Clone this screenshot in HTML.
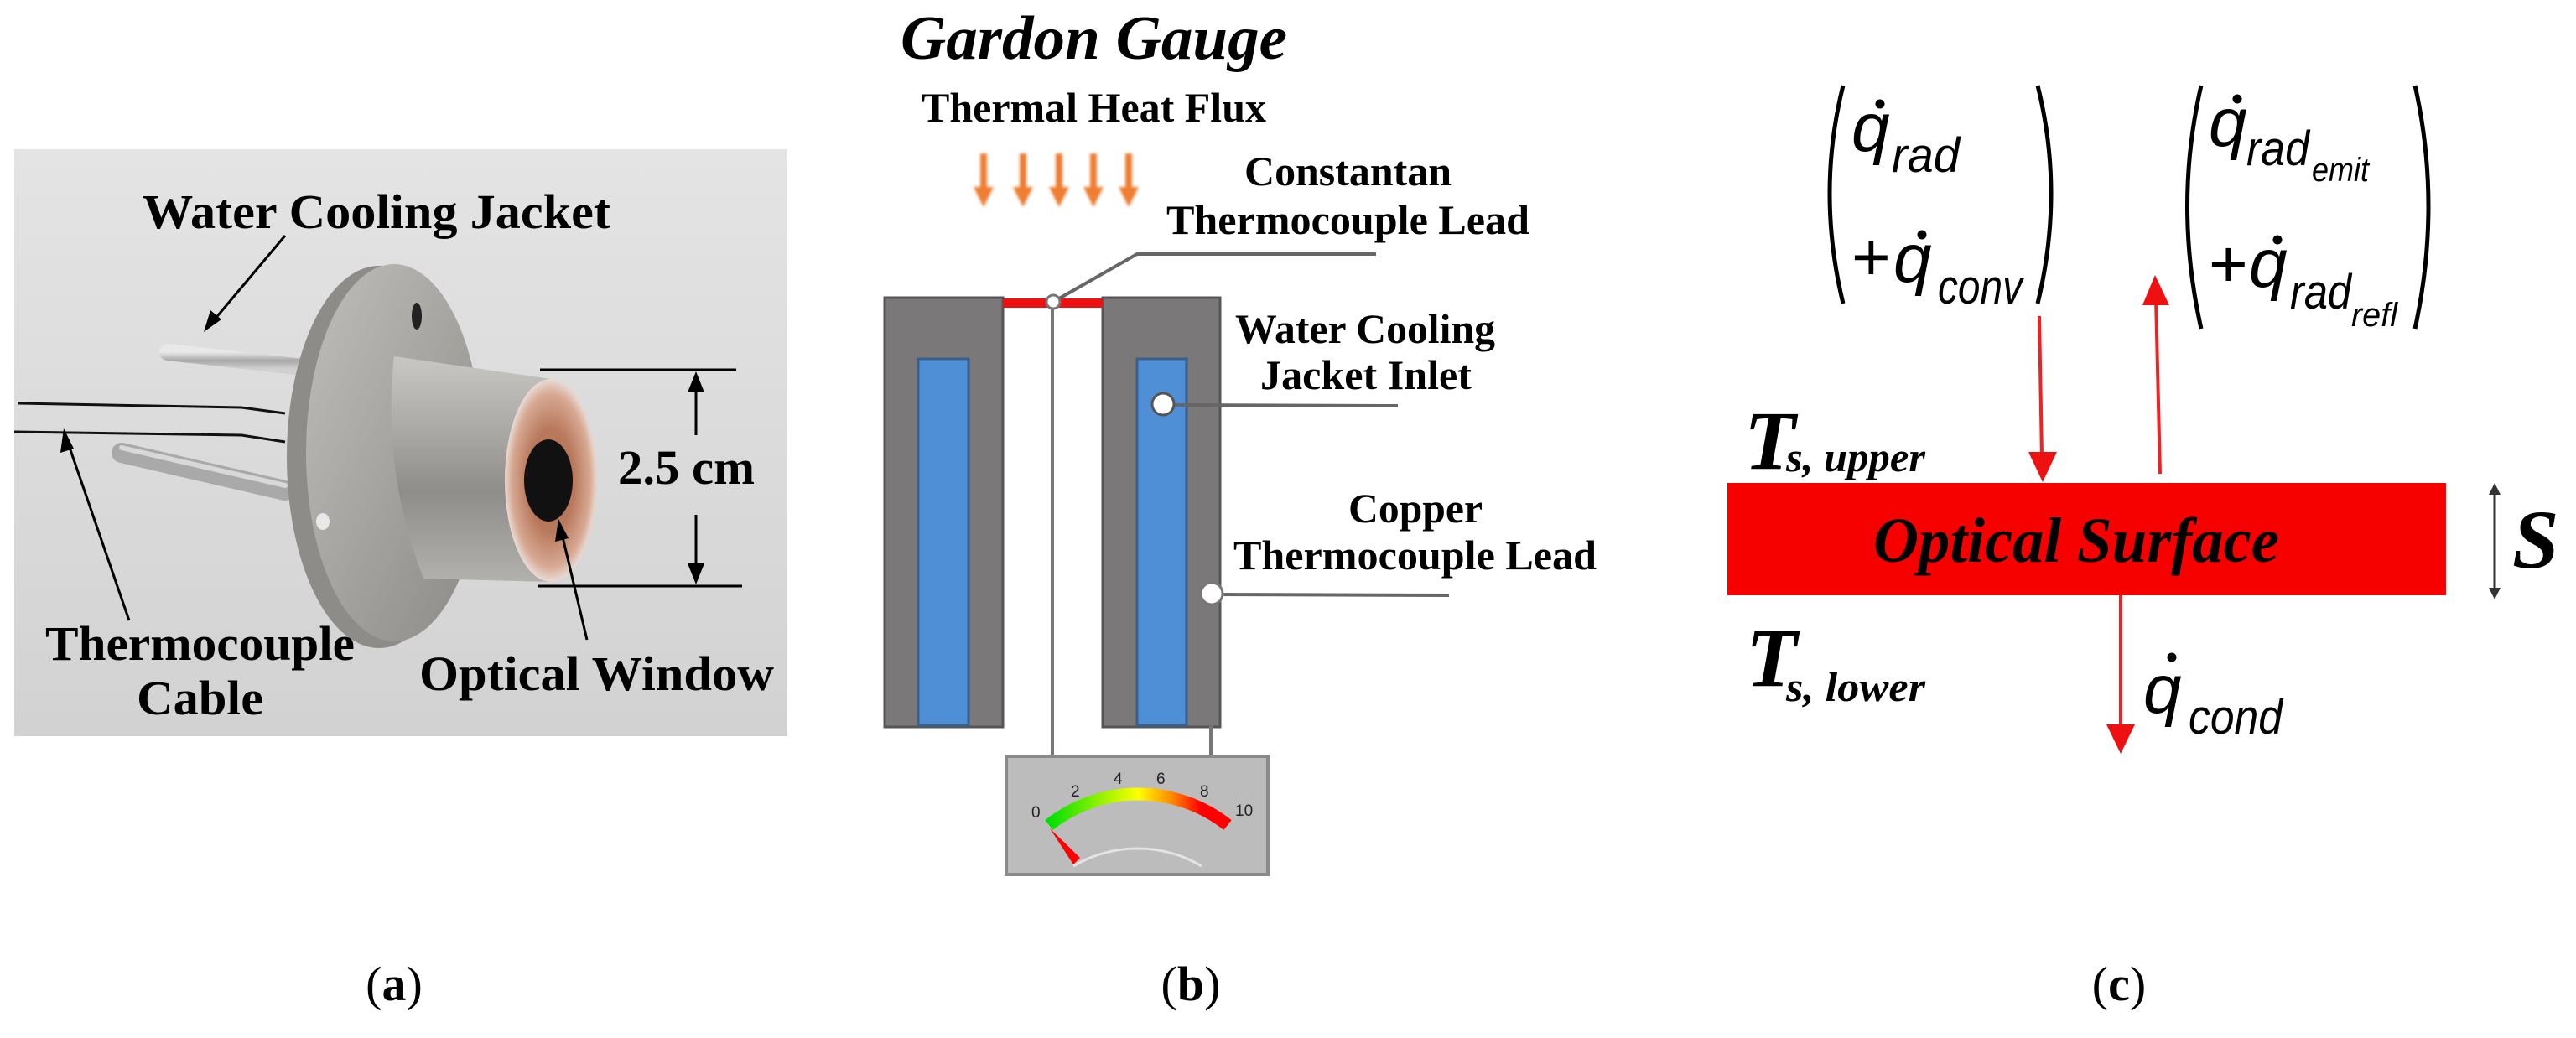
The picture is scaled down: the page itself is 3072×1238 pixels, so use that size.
<!DOCTYPE html>
<html><head><meta charset="utf-8"><style>
html,body{margin:0;padding:0;background:#fff}
svg{display:block}
.tb{font-family:"Liberation Serif",serif;font-weight:bold}
.qi{font-family:"Liberation Sans",sans-serif;font-style:italic}
</style></head><body>
<svg width="3072" height="1238" viewBox="0 0 3072 1238" xmlns="http://www.w3.org/2000/svg">
<defs>
<linearGradient id="bg" x1="0" y1="0" x2="0" y2="1"><stop offset="0" stop-color="#e4e4e4"/><stop offset="1" stop-color="#d2d2d2"/></linearGradient>
<linearGradient id="barrel" x1="0" y1="0" x2="0" y2="1"><stop offset="0" stop-color="#c9c7c3"/><stop offset="0.35" stop-color="#a9a7a3"/><stop offset="0.6" stop-color="#8f8d8a"/><stop offset="1" stop-color="#b3b1ad"/></linearGradient>
<linearGradient id="flange" x1="0" y1="0" x2="1" y2="1"><stop offset="0" stop-color="#c0beba"/><stop offset="1" stop-color="#8c8a86"/></linearGradient>
<radialGradient id="cop" cx="0.5" cy="0.5" r="0.5"><stop offset="0.5" stop-color="#b8785c"/><stop offset="0.85" stop-color="#d7a892"/><stop offset="1" stop-color="#e8dcd6"/></radialGradient>
<linearGradient id="rod" x1="0" y1="0" x2="0" y2="1"><stop offset="0" stop-color="#e8e8e8"/><stop offset="0.5" stop-color="#a8a8a8"/><stop offset="1" stop-color="#d0d0d0"/></linearGradient>
<linearGradient id="arc" x1="0" y1="0" x2="1" y2="0"><stop offset="0" stop-color="#00e000"/><stop offset="0.25" stop-color="#80f000"/><stop offset="0.5" stop-color="#ffff00"/><stop offset="0.7" stop-color="#ff8000"/><stop offset="0.85" stop-color="#ff0000"/><stop offset="1" stop-color="#ff0000"/></linearGradient>
<filter id="blur"><feGaussianBlur stdDeviation="1.5"/></filter>
</defs>

<!-- Panel (a) -->
<rect x="17" y="178" width="922" height="700" fill="url(#bg)"/>
<!-- rods -->
<line x1="200" y1="420" x2="380" y2="440" stroke="url(#rod)" stroke-width="20" stroke-linecap="round"/>
<line x1="145" y1="540" x2="340" y2="585" stroke="#a9a9a9" stroke-width="24" stroke-linecap="round"/>
<line x1="145" y1="534" x2="340" y2="579" stroke="#d8d8d8" stroke-width="6" stroke-linecap="round"/>
<!-- cable -->
<path d="M22 481 L288 486 L340 493" fill="none" stroke="#111" stroke-width="3"/>
<path d="M17 515 L288 519 L340 527" fill="none" stroke="#111" stroke-width="3"/>
<!-- flange -->
<ellipse cx="452" cy="545" rx="110" ry="228" fill="#8e8c88"/>
<ellipse cx="470" cy="540" rx="105" ry="225" fill="url(#flange)"/>
<ellipse cx="497" cy="377" rx="6" ry="16" fill="#222"/>
<ellipse cx="385" cy="622" rx="8" ry="10" fill="#e8e8e8"/>
<!-- barrel -->
<path d="M470 425 L657 452 A55 121 0 0 1 657 694 L505 690 Q455 560 470 425 Z" fill="url(#barrel)"/>
<ellipse cx="657" cy="573" rx="55" ry="121" fill="url(#cop)"/>
<ellipse cx="654" cy="573" rx="29" ry="49" fill="#111"/>
<!-- dimension -->
<line x1="644" y1="441" x2="878" y2="441" stroke="#000" stroke-width="3"/>
<line x1="641" y1="699" x2="885" y2="699" stroke="#000" stroke-width="3"/>
<line x1="830" y1="519" x2="830" y2="452" stroke="#000" stroke-width="3"/>
<path d="M830 443 L820 468 L840 468 Z" fill="#000"/>
<line x1="830" y1="614" x2="830" y2="688" stroke="#000" stroke-width="3"/>
<path d="M830 697 L820 672 L840 672 Z" fill="#000"/>
<!-- arrows -->
<line x1="340" y1="281" x2="250" y2="388" stroke="#000" stroke-width="3"/>
<path d="M243 396 L251 370 L264 381 Z" fill="#000"/>
<line x1="154" y1="740" x2="80" y2="525" stroke="#000" stroke-width="3"/>
<path d="M76 511 L72 540 L88 535 Z" fill="#000"/>
<line x1="700" y1="763" x2="669" y2="632" stroke="#000" stroke-width="3"/>
<path d="M666 619 L662 646 L678 642 Z" fill="#000"/>
<text class="tb" x="170" y="272" font-size="58" textLength="558" lengthAdjust="spacingAndGlyphs">Water Cooling Jacket</text>
<text class="tb" x="737" y="577" font-size="58" textLength="163" lengthAdjust="spacingAndGlyphs">2.5 cm</text>
<text class="tb" x="54" y="787" font-size="58" textLength="369" lengthAdjust="spacingAndGlyphs">Thermocouple</text>
<text class="tb" x="163" y="852" font-size="58" textLength="151" lengthAdjust="spacingAndGlyphs">Cable</text>
<text class="tb" x="500" y="823" font-size="58" textLength="423" lengthAdjust="spacingAndGlyphs">Optical Window</text>

<!-- Panel (b) -->
<text x="1074" y="70" font-family="Liberation Serif,serif" font-weight="bold" font-style="italic" font-size="74" textLength="461" lengthAdjust="spacingAndGlyphs">Gardon Gauge</text>
<text class="tb" x="1099" y="145" font-size="50" textLength="411" lengthAdjust="spacingAndGlyphs">Thermal Heat Flux</text>
<g fill="#ef7d32" filter="url(#blur)">
<g id="oa"><rect x="1169" y="183" width="8" height="42"/><path d="M1161 223 L1185 223 L1173 247 Z"/></g>
<use href="#oa" x="47"/><use href="#oa" x="90"/><use href="#oa" x="131"/><use href="#oa" x="173"/>
</g>
<text class="tb" x="1484" y="221" font-size="50" textLength="247" lengthAdjust="spacingAndGlyphs">Constantan</text>
<text class="tb" x="1391" y="279" font-size="50" textLength="433" lengthAdjust="spacingAndGlyphs">Thermocouple Lead</text>
<path d="M1256 360 L1356 303 L1641 303" fill="none" stroke="#666" stroke-width="4"/>
<!-- blocks -->
<rect x="1055" y="355" width="141" height="512" fill="#7a7878" stroke="#555" stroke-width="3"/>
<rect x="1095" y="428" width="60" height="437" fill="#4f8fd6" stroke="#3a5f8a" stroke-width="3"/>
<rect x="1315" y="355" width="140" height="512" fill="#7a7878" stroke="#555" stroke-width="3"/>
<rect x="1356" y="428" width="59" height="437" fill="#4f8fd6" stroke="#3a5f8a" stroke-width="3"/>
<rect x="1196" y="356" width="119" height="11" fill="#ee1111"/>
<line x1="1255" y1="360" x2="1255" y2="905" stroke="#777" stroke-width="4"/>
<line x1="1444" y1="866" x2="1444" y2="905" stroke="#777" stroke-width="4"/>
<circle cx="1256" cy="360" r="8" fill="#fff" stroke="#777" stroke-width="3"/>
<line x1="1387" y1="483" x2="1667" y2="484" stroke="#666" stroke-width="4"/>
<circle cx="1387" cy="482" r="13" fill="#fff" stroke="#555" stroke-width="3"/>
<line x1="1445" y1="709" x2="1728" y2="710" stroke="#666" stroke-width="4"/>
<circle cx="1445" cy="708" r="13" fill="#fff" stroke="#777" stroke-width="3"/>
<text class="tb" x="1473" y="409" font-size="50" textLength="310" lengthAdjust="spacingAndGlyphs">Water Cooling</text>
<text class="tb" x="1503" y="464" font-size="50" textLength="252" lengthAdjust="spacingAndGlyphs">Jacket Inlet</text>
<text class="tb" x="1608" y="623" font-size="50" textLength="160" lengthAdjust="spacingAndGlyphs">Copper</text>
<text class="tb" x="1471" y="679" font-size="50" textLength="433" lengthAdjust="spacingAndGlyphs">Thermocouple Lead</text>
<!-- meter -->
<rect x="1200" y="902" width="312" height="141" fill="#bcbcbc" stroke="#8a8a8a" stroke-width="4"/>
<path d="M1251 984 A172 172 0 0 1 1464 984" fill="none" stroke="url(#arc)" stroke-width="15"/>
<path d="M1280 1033 A150 150 0 0 1 1433 1033" fill="none" stroke="#e4e4e4" stroke-width="3"/>
<path d="M1252 988 L1280 1031 L1288 1023 Z" fill="#f00"/>
<g font-family="Liberation Sans,sans-serif" font-size="19" fill="#222">
<text x="1230" y="975">0</text><text x="1277" y="950">2</text><text x="1328" y="935">4</text><text x="1379" y="935">6</text><text x="1431" y="950">8</text><text x="1473" y="973">10</text>
</g>

<!-- Panel (c) -->
<g fill="none" stroke="#000" stroke-width="5">
<path d="M2198 102 Q2166 230 2198 362"/>
<path d="M2430 102 Q2462 230 2430 362"/>
<path d="M2625 102 Q2592 245 2625 392"/>
<path d="M2880 102 Q2912 245 2880 392"/>
</g>
<g class="qi" fill="#000">
<text x="2208" y="180" font-size="82">q</text><circle cx="2242" cy="124" r="5.5"/>
<text x="2256" y="205" font-size="58" textLength="81" lengthAdjust="spacingAndGlyphs">rad</text>
<text x="2208" y="334" font-size="80" font-style="normal">+</text>
<text x="2258" y="336" font-size="82">q</text><circle cx="2292" cy="280" r="5.5"/>
<text x="2311" y="362" font-size="58" textLength="101" lengthAdjust="spacingAndGlyphs">conv</text>
<text x="2634" y="174" font-size="82">q</text><circle cx="2668" cy="118" r="5.5"/>
<text x="2679" y="197" font-size="58" textLength="75" lengthAdjust="spacingAndGlyphs">rad</text>
<text x="2757" y="216" font-size="40" textLength="68" lengthAdjust="spacingAndGlyphs">emit</text>
<text x="2634" y="342" font-size="80" font-style="normal">+</text>
<text x="2682" y="342" font-size="82">q</text><circle cx="2716" cy="286" r="5.5"/>
<text x="2731" y="368" font-size="58" textLength="73" lengthAdjust="spacingAndGlyphs">rad</text>
<text x="2804" y="389" font-size="40" textLength="55" lengthAdjust="spacingAndGlyphs">refl</text>
<text x="2556" y="850" font-size="82">q</text><circle cx="2590" cy="784" r="5.5"/>
<text x="2610" y="875" font-size="58" textLength="112" lengthAdjust="spacingAndGlyphs">cond</text>
</g>
<!-- red arrows -->
<line x1="2432" y1="377" x2="2435" y2="545" stroke="#e22" stroke-width="4"/>
<path d="M2419 539 L2453 539 L2436 575 Z" fill="#e11"/>
<line x1="2576" y1="565" x2="2571" y2="355" stroke="#e22" stroke-width="4"/>
<path d="M2555 364 L2587 364 L2570 328 Z" fill="#e11"/>
<rect x="2060" y="576" width="857" height="134" fill="#f60000"/>
<line x1="2529" y1="710" x2="2529" y2="870" stroke="#e22" stroke-width="4"/>
<path d="M2512 864 L2546 864 L2529 899 Z" fill="#e11"/>
<text x="2234" y="670" font-family="Liberation Serif,serif" font-weight="bold" font-style="italic" font-size="76" textLength="484" lengthAdjust="spacingAndGlyphs">Optical Surface</text>
<g font-family="Liberation Serif,serif" font-weight="bold" font-style="italic">
<text x="2080" y="559" font-size="100">T</text>
<text x="2130" y="562" font-size="50" textLength="166" lengthAdjust="spacingAndGlyphs">s, upper</text>
<text x="2082" y="818" font-size="100">T</text>
<text x="2130" y="836" font-size="50" textLength="166" lengthAdjust="spacingAndGlyphs">s, lower</text>
<text x="2996" y="677" font-size="100">S</text>
</g>
<line x1="2975" y1="582" x2="2975" y2="709" stroke="#333" stroke-width="3"/>
<path d="M2975 576 L2968 590 L2982 590 Z M2975 715 L2968 701 L2982 701 Z" fill="#333"/>

<!-- captions -->
<g font-family="Liberation Serif,serif" font-size="58" text-anchor="middle">
<text x="470" y="1193">(<tspan font-weight="bold">a</tspan>)</text>
<text x="1420" y="1193">(<tspan font-weight="bold">b</tspan>)</text>
<text x="2527" y="1193">(<tspan font-weight="bold">c</tspan>)</text>
</g>
</svg>
</body></html>
